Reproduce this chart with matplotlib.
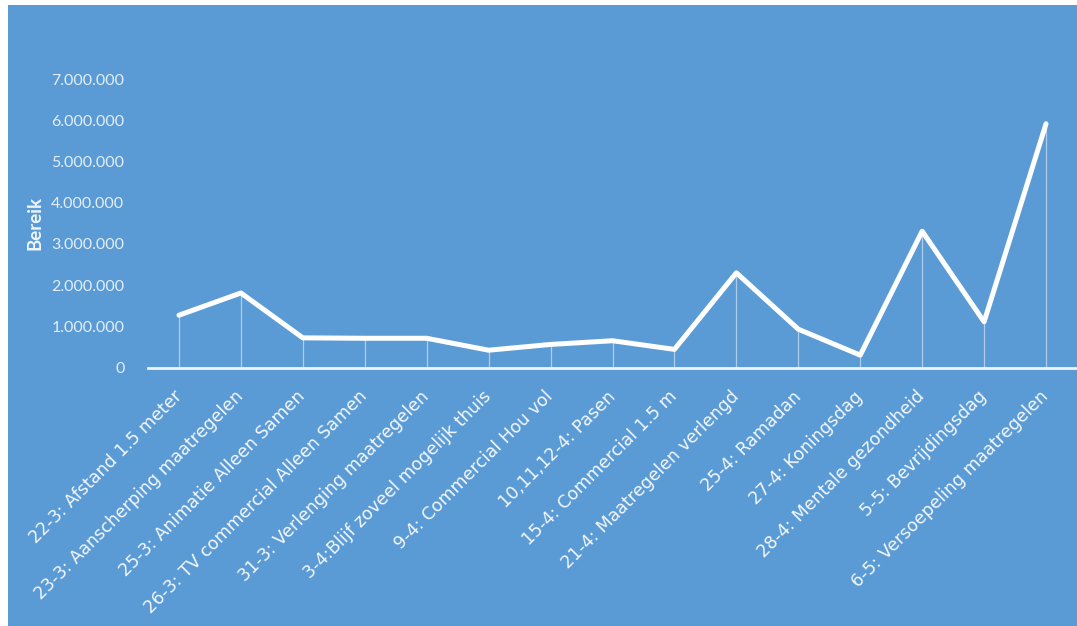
import matplotlib
matplotlib.use("Agg")
import matplotlib.pyplot as plt
from matplotlib.patches import Rectangle
from matplotlib.ticker import FuncFormatter, MultipleLocator

# Campaign moments and their reach
categories = [
    "22-3: Afstand 1.5 meter",
    "23-3: Aanscherping maatregelen",
    "25-3: Animatie Alleen Samen",
    "26-3: TV commercial Alleen Samen",
    "31-3: Verlenging maatregelen",
    "3-4:Blijf zoveel mogelijk thuis",
    "9-4: Commercial Hou vol",
    "10,11,12-4: Pasen",
    "15-4: Commercial 1.5 m",
    "21-4: Maatregelen verlengd",
    "25-4: Ramadan",
    "27-4: Koningsdag",
    "28-4: Mentale gezondheid",
    "5-5: Bevrijdingsdag",
    "6-5: Versoepeling maatregelen",
]
bereik = [
    1270000, 1810000, 720000, 710000, 710000,
    420000, 560000, 650000, 440000, 2300000,
    930000, 300000, 3310000, 1110000, 5920000,
]
y_max = 7000000
y_step = 1000000

BLUE = "#5B9BD5"
W, H = 1077, 626

fig = plt.figure(figsize=(W / 100, H / 100), dpi=100)
fig.patch.set_facecolor("white")
fig.patches.append(Rectangle((8 / W, 0), 1 - 8 / W, 1 - 5 / H,
                             transform=fig.transFigure, facecolor=BLUE,
                             edgecolor="none", zorder=-10))

ax = fig.add_axes([148 / W, 1 - 367.5 / H, 1 - 148 / W, (367.5 - 79.3) / H])
ax.set_zorder(1)
ax.set_facecolor("none")

x = list(range(len(categories)))
ax.vlines(x, 0, bereik, colors="white", linewidth=0.9, alpha=0.5, zorder=2)
ax.plot(x, bereik, color="white", linewidth=3.6, solid_joinstyle="round",
        solid_capstyle="round", zorder=3)

ax.set_xlim(-0.5, len(categories) - 0.5)
ax.set_ylim(0, y_max)
ax.yaxis.set_major_locator(MultipleLocator(y_step))
ax.yaxis.set_major_formatter(
    FuncFormatter(lambda v, _: f"{int(round(v)):,}".replace(",", ".")))

for side in ("top", "right", "left"):
    ax.spines[side].set_visible(False)
ax.spines["bottom"].set_color("white")
ax.spines["bottom"].set_linewidth(2.0)
ax.spines["bottom"].set_alpha(0.9)

ax.tick_params(axis="y", length=0, pad=17, labelsize=11.5, labelcolor="#E4EEF8")
ax.tick_params(axis="x", length=0, pad=19)
for lbl in ax.get_yticklabels():
    lbl.set_fontfamily("Lato")

ax.set_xticks(x)
ax.set_xticklabels(categories, rotation=45, ha="right", va="center",
                   rotation_mode="anchor", fontsize=12.5, color="#F2F7FC",
                   fontfamily="DejaVu Sans")

ax.set_ylabel("Bereik", fontsize=13.5, fontweight="bold", color="#EEF4FB",
              fontfamily="Lato")
ax.yaxis.set_label_coords(-(148 - 44) / (W - 148), 0.5)

fig.savefig("out.png", dpi=100, facecolor=fig.get_facecolor())
